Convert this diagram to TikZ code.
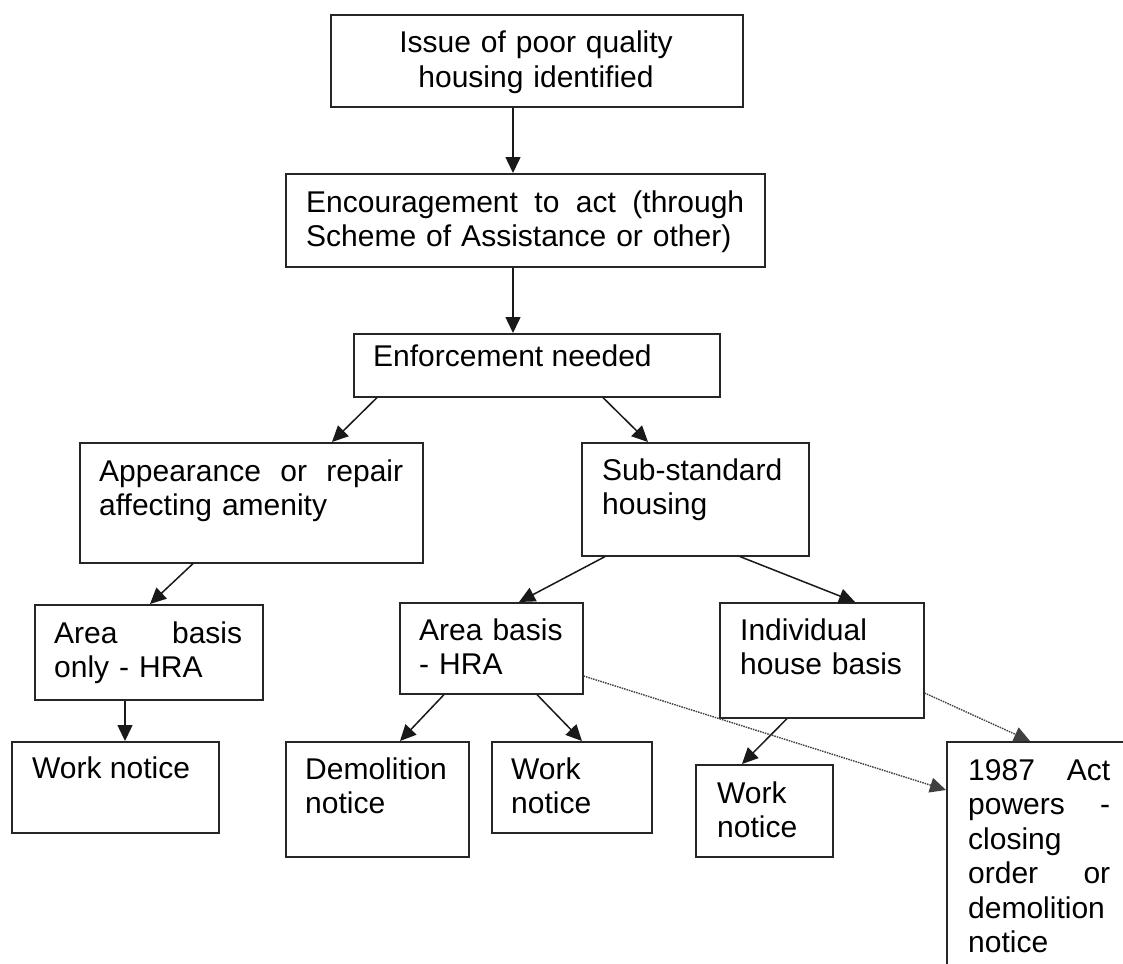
\documentclass[tikz,border=0pt]{standalone}
\usepackage{fontspec}
\setmainfont{Liberation Sans}
\usetikzlibrary{arrows.meta}
\begin{document}
\begin{tikzpicture}[x=1pt,y=-1pt,
  box/.style={draw=black!85, line width=1.6pt, anchor=north west, inner sep=0pt},
  txt/.style={anchor=base west, inner sep=0pt, align=left, font=\fontsize{30}{34.5}\selectfont},
  arr/.style={line width=1.5pt, draw=black!90, -{Triangle[length=16pt,width=15pt]}},
  dots/.style={line width=1.4pt, dash pattern=on 1.5pt off 1pt, draw=black!75, -{Triangle[length=16pt,width=15pt]}}]
\useasboundingbox (0,0) rectangle (1123,963);
\clip (0,0) rectangle (1123,963);
\fill[white] (0,0) rectangle (1123,963);

% boxes
\node[box, minimum width=412pt, minimum height=92pt] (b1) at (330,14) {};
\node[box, minimum width=479pt, minimum height=93pt] (b2) at (285,173) {};
\node[box, minimum width=366pt, minimum height=63pt] (b3) at (353,333) {};
\node[box, minimum width=343pt, minimum height=120pt] (b4) at (79,442) {};
\node[box, minimum width=227pt, minimum height=113pt] (b5) at (581,442) {};
\node[box, minimum width=228pt, minimum height=95pt] (b6) at (34,604) {};
\node[box, minimum width=207pt, minimum height=91pt] (b7) at (11,741) {};
\node[box, minimum width=183pt, minimum height=91pt] (b8) at (399,602) {};
\node[box, minimum width=204pt, minimum height=115pt] (b9) at (719,602) {};
\node[box, minimum width=183pt, minimum height=115pt] (b10) at (285,741) {};
\node[box, minimum width=160pt, minimum height=91pt] (b11) at (491,741) {};
\node[box, minimum width=137pt, minimum height=92pt] (b12) at (695,764) {};
\node[box, minimum width=190pt, minimum height=240pt] (b13) at (946,741) {};

% texts
\node[txt, anchor=base, align=center, text width=412pt] (t1) at (536,53) {Issue of poor quality\\housing identified};
\node[txt, text width=438pt] (t2) at (306,212) {Encouragement\hfill to\hfill act\hfill (through\\Scheme of Assistance or other)};
\node[txt] (t3) at (373,366) {Enforcement needed};
\node[txt, text width=304pt] (t4) at (99,481) {Appearance\hfill or\hfill repair\\affecting amenity};
\node[txt, text width=200pt] (t5) at (602,480) {Sub-standard\\housing};
\node[txt, text width=188pt] (t6) at (54,643) {Area\hfill basis\\only - HRA};
\node[txt] (t7) at (32,778) {Work notice};
\node[txt, text width=160pt] (t8) at (419,640) {Area basis\\- HRA};
\node[txt, text width=170pt] (t9) at (740,640) {Individual\\house basis};
\node[txt, text width=160pt] (t10) at (305,779) {Demolition\\notice};
\node[txt, text width=130pt] (t11) at (511,779) {Work\\notice};
\node[txt, text width=110pt] (t12) at (717,803) {Work\\notice};
\node[txt, text width=142pt] (t13) at (968,780) {1987\hfill Act\\powers\hfill -\\closing\\order\hfill or\\demolition\\notice};

% connectors
\draw[arr] (513,0 |- b1.south) -- (513,0 |- b2.north);
\draw[arr] (513,0 |- b2.south) -- (513,0 |- b3.north);
\draw[arr] (377,0 |- b3.south) -- (332,0 |- b4.north);
\draw[arr] (603,0 |- b3.south) -- (648,0 |- b5.north);
\draw[arr] (193,0 |- b4.south) -- (150,0 |- b6.north);
\draw[arr] (605,0 |- b5.south) -- (519,0 |- b8.north);
\draw[arr] (740,0 |- b5.south) -- (855,0 |- b9.north);
\draw[arr] (125,0 |- b6.south) -- (125,0 |- b7.north);
\draw[arr] (444,0 |- b8.south) -- (400,0 |- b10.north);
\draw[arr] (537,0 |- b8.south) -- (582,0 |- b11.north);
\draw[arr] (787,0 |- b9.south) -- (742,0 |- b12.north);
\draw[dots] (b8.east |- 0,676) -- (b13.west |- 0,790);
\draw[dots] (b9.east |- 0,693) -- (1030,0 |- b13.north);
\end{tikzpicture}
\end{document}
